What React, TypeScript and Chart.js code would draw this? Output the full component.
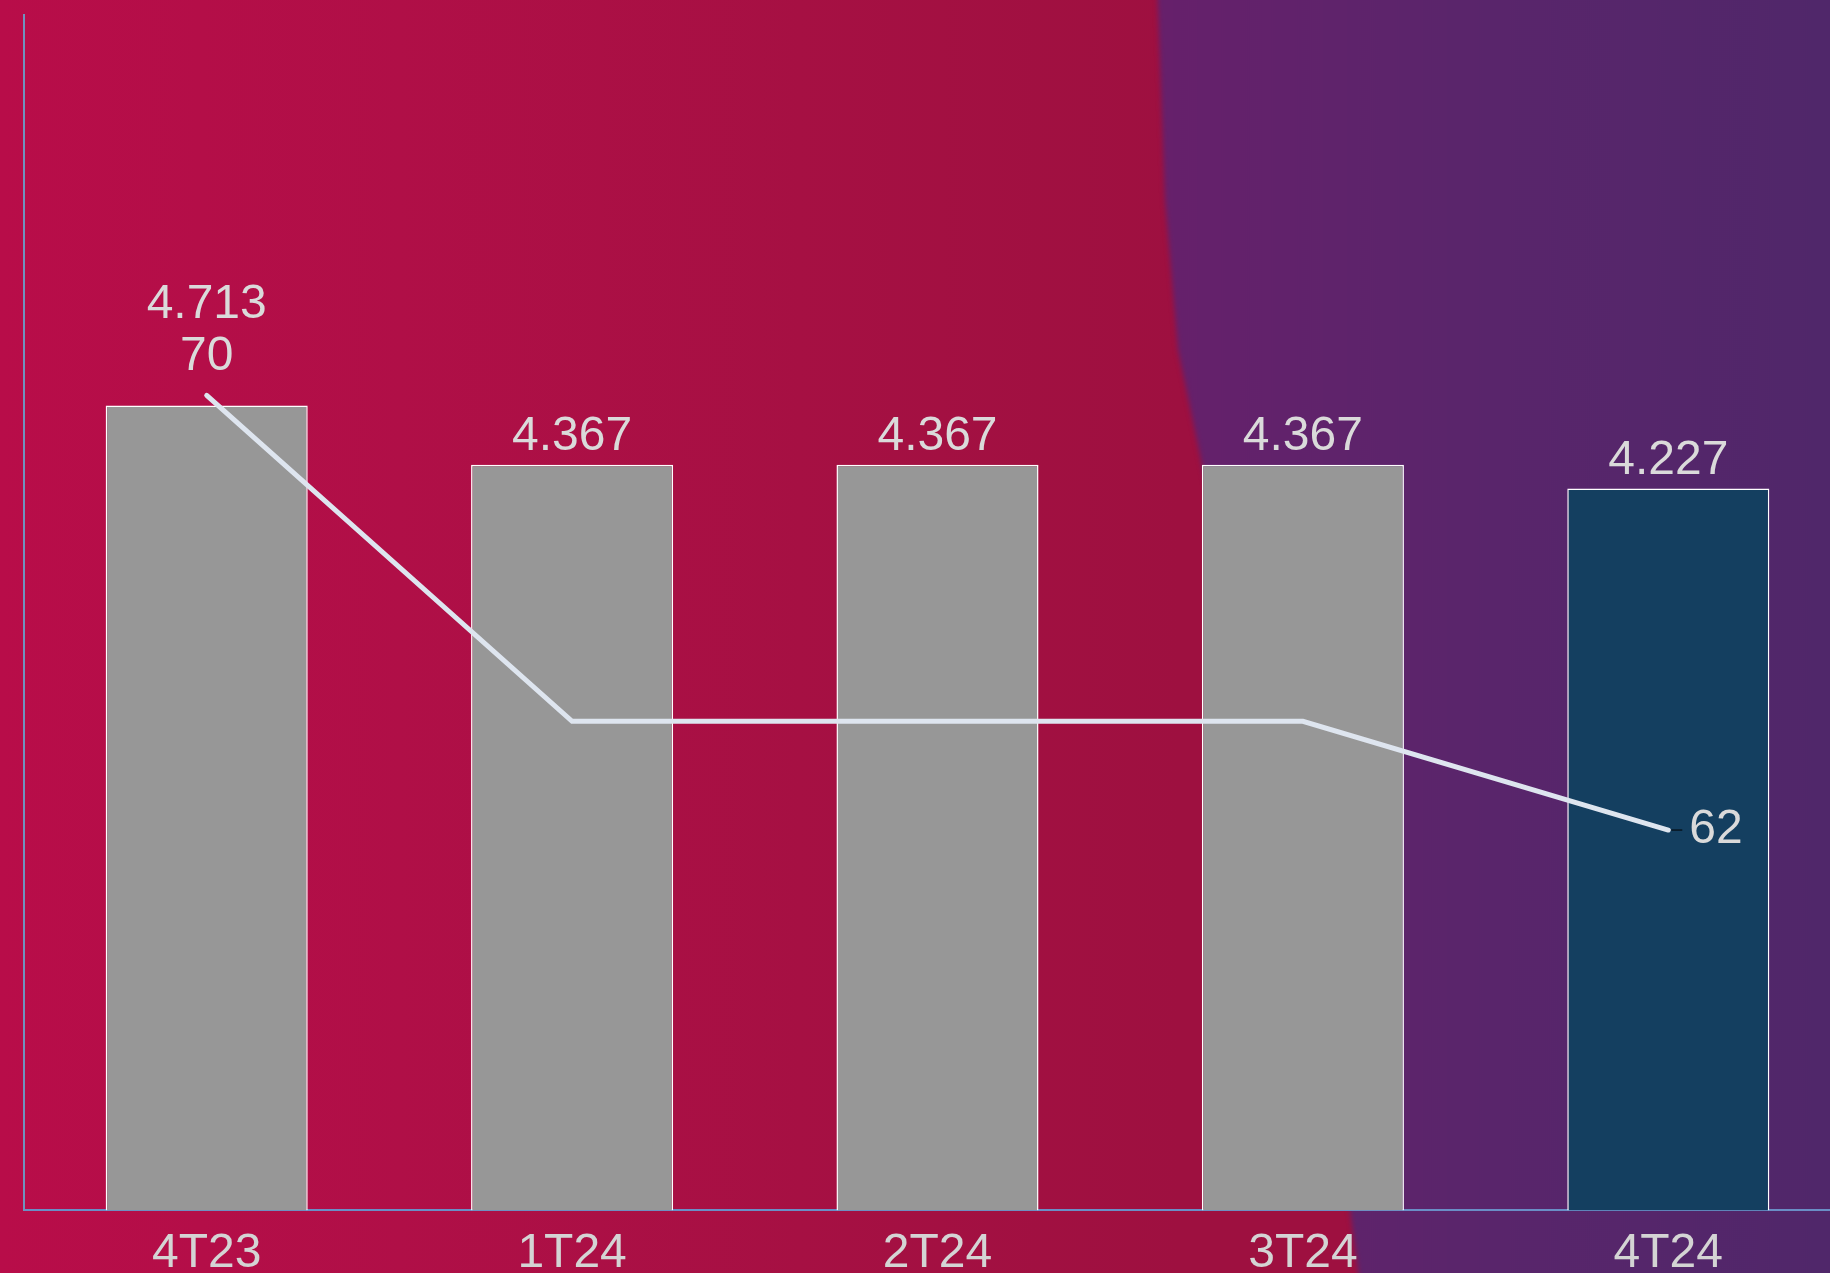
import React, { useEffect, useRef } from 'react';
import { Chart, registerables } from 'chart.js';

Chart.register(...registerables);

const categories = ['4T23', '1T24', '2T24', '3T24', '4T24'];
const barValues = [4713, 4367, 4367, 4367, 4227];
const lineValues = [70, 64, 64, 64, 62];
const lineLabelSides = ['top', '', '', '', 'right'];
const barColors = ['#979797', '#979797', '#979797', '#979797', '#143F60'];

const FONT = '"Liberation Sans", Arial, sans-serif';

function formatThousands(v: number): string {
  const s = String(Math.round(v));
  return s.replace(/\B(?=(\d{3})+(?!\d))/g, '.');
}

const labelPlugin = {
  id: 'valueLabels',
  afterDatasetsDraw(chart: any) {
    const ctx = chart.ctx as CanvasRenderingContext2D;
    const barMeta = chart.getDatasetMeta(0);
    const lineMeta = chart.getDatasetMeta(1);
    ctx.save();
    ctx.font = `48px ${FONT}`;
    ctx.fillStyle = '#DADADA';
    barMeta.data.forEach((bar: any, i: number) => {
      const pt = lineMeta.data[i];
      let barBase = bar.y - 15;
      const side = lineLabelSides[i];
      if (side === 'top') {
        const lineBase = pt.y - 25;
        ctx.textAlign = 'center';
        ctx.textBaseline = 'alphabetic';
        ctx.fillText(String(lineValues[i]), pt.x, lineBase);
        barBase = Math.min(barBase, lineBase - 52);
      } else if (side === 'right') {
        ctx.beginPath();
        ctx.strokeStyle = '#000000';
        ctx.lineWidth = 1;
        ctx.moveTo(pt.x + 3, pt.y);
        ctx.lineTo(pt.x + 14, pt.y);
        ctx.stroke();
        ctx.textAlign = 'left';
        ctx.textBaseline = 'middle';
        ctx.fillText(String(lineValues[i]), pt.x + 21, pt.y);
      }
      ctx.textAlign = 'center';
      ctx.textBaseline = 'alphabetic';
      ctx.fillText(formatThousands(barValues[i]), bar.x, barBase);
    });
    ctx.restore();
  },
};

export default function App() {
  const canvasRef = useRef<HTMLCanvasElement | null>(null);

  useEffect(() => {
    document.body.style.overflow = 'hidden';
    const canvas = canvasRef.current;
    if (!canvas) return;
    const chart = new Chart(canvas, {
      type: 'bar',
      data: {
        labels: categories,
        datasets: [
          {
            type: 'bar',
            label: 'Valor',
            data: barValues,
            backgroundColor: barColors,
            borderColor: '#FFFFFF',
            borderWidth: 1.5,
            barPercentage: 0.553,
            categoryPercentage: 1,
            yAxisID: 'y',
            order: 1,
          },
          {
            type: 'line',
            label: 'Índice',
            data: lineValues,
            borderColor: '#DEE5EF',
            borderWidth: 5,
            borderCapStyle: 'round',
            pointRadius: 0,
            pointHoverRadius: 0,
            tension: 0,
            fill: false,
            yAxisID: 'y1',
            order: 0,
          } as any,
        ],
      },
      options: {
        animation: false,
        responsive: true,
        maintainAspectRatio: false,
        layout: { padding: { left: 24, top: 15, right: 5, bottom: 0 } },
        plugins: {
          legend: { display: false },
          tooltip: { enabled: false },
        },
        scales: {
          x: {
            offset: true,
            grid: { display: false, drawTicks: false },
            border: { display: true, color: '#6A8EC6', width: 2 },
            ticks: {
              color: '#D4D4D4',
              font: { family: FONT, size: 48 },
              padding: 15,
              maxRotation: 0,
              autoSkip: false,
            },
          },
          y: {
            min: 0,
            max: 7000,
            display: true,
            ticks: { display: false },
            grid: { display: false, drawTicks: false },
            border: { display: true, color: '#7092BE', width: 2 },
          },
          y1: {
            min: 55,
            max: 77,
            display: false,
          },
        },
      },
      plugins: [labelPlugin],
    });
    return () => chart.destroy();
  }, []);

  return (
    <div style={{ position: 'fixed', left: 0, top: 0, width: 1830, height: 1273, overflow: 'hidden' }}>
      <div
        style={{
          position: 'absolute',
          inset: 0,
          background: 'linear-gradient(to right, #B80D49 0px, #B00F47 400px, #A61043 800px, #9E1040 1180px)',
        }}
      />
      <div style={{ position: 'absolute', left: -20, top: -20, width: 1880, height: 1320, filter: 'blur(2.5px)' }}>
        <div
          style={{
            position: 'absolute',
            inset: 0,
            background: 'linear-gradient(to right, #66206B 1180px, #5A256B 1480px, #4F276A 1880px)',
            clipPath:
              'polygon(1177px 0px, 1185px 220px, 1198px 370px, 1220px 475px, 1370px 1230px, 1382px 1320px, 1880px 1320px, 1880px 0px)',
          }}
        />
      </div>
      <div style={{ position: 'absolute', left: 0, top: 0, width: 1856, height: 1298 }}>
        <canvas ref={canvasRef} style={{ display: 'block' }} />
      </div>
    </div>
  );
}
